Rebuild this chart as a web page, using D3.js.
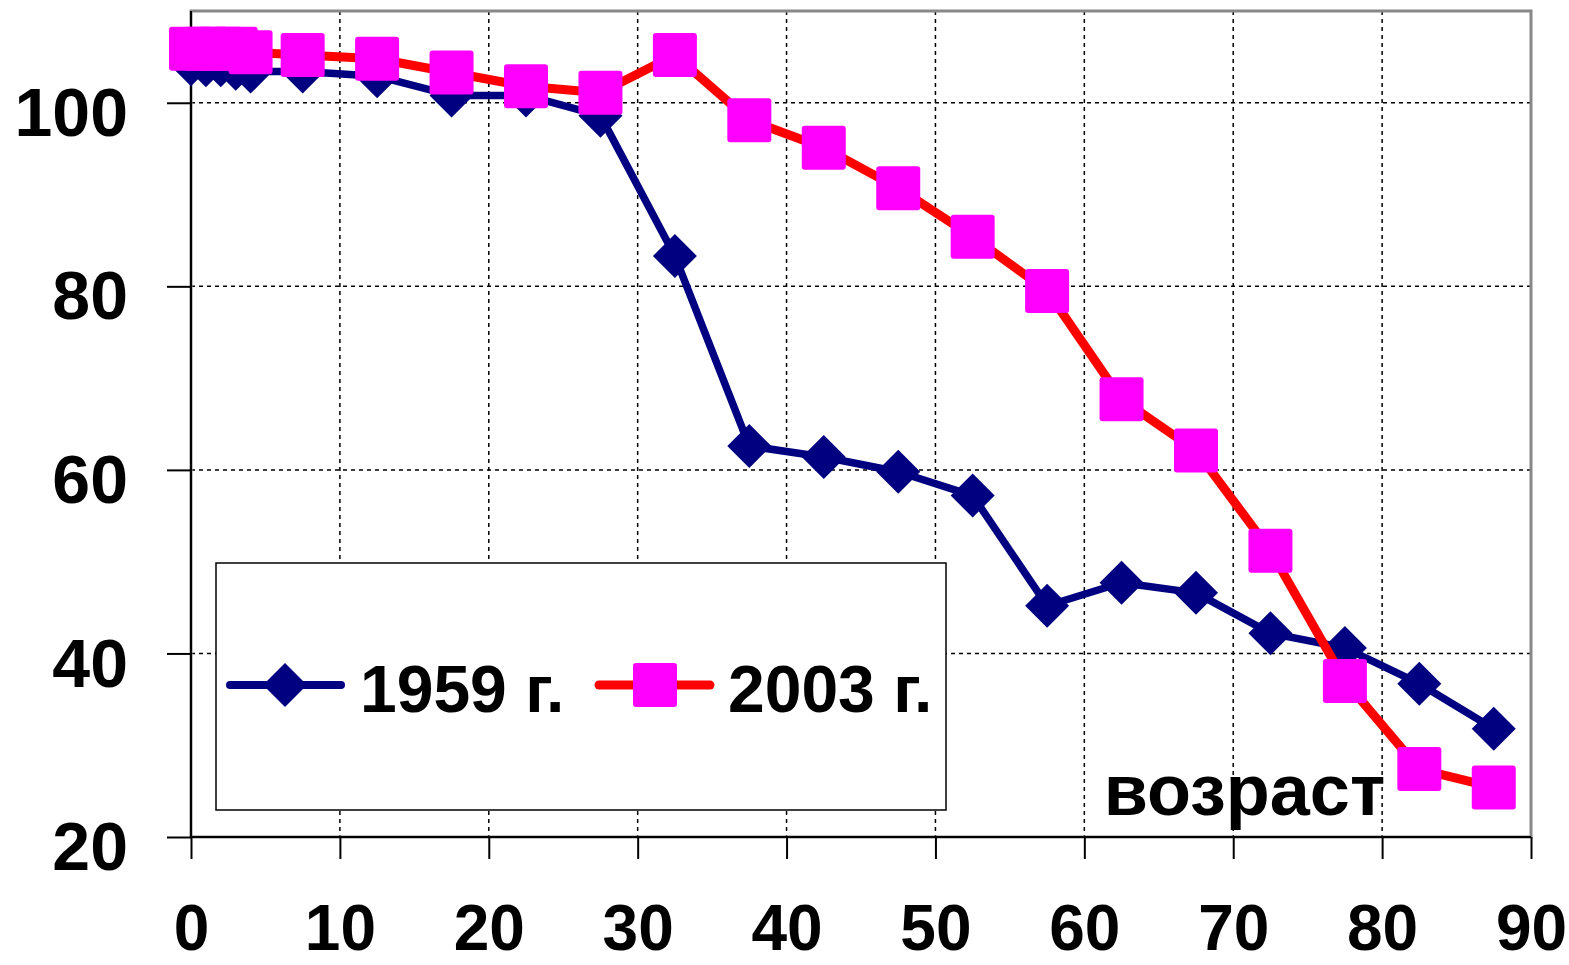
<!DOCTYPE html>
<html lang="ru">
<head>
    <meta charset="UTF-8">
    <title>1959 г. / 2003 г.</title>
    <script src="https://d3js.org/d3.v7.min.js"></script>
    <style>
        body {
            margin: 0;
            background: #fff;
            font-family: "Liberation Sans", Arial, Helvetica, sans-serif;
        }
        .tick text {
            font-weight: bold;
            fill: #000;
        }
    </style>
</head>
<body>
    <div id="chart"></div>

    <script>
        // ages (midpoints of age groups)
        const ages = [0, 1, 2, 3, 4, 7.5, 12.5, 17.5, 22.5, 27.5, 32.5, 37.5, 42.5, 47.5, 52.5, 57.5, 62.5, 67.5, 72.5, 77.5, 82.5, 87.5];
        const values1959 = [104.2, 104.1, 104.1, 103.7, 103.4, 103.4, 102.9, 100.8, 100.8, 98.6, 83.3, 62.6, 61.4, 59.8, 57.2, 45.2, 47.7, 46.6, 42.2, 40.6, 36.7, 31.8];
        const values2003 = [105.9, 105.9, 105.9, 105.9, 105.5, 105.2, 104.8, 103.3, 101.8, 101.1, 105.2, 98.1, 95.1, 90.7, 85.4, 79.5, 67.7, 62.1, 51.2, 37.0, 27.4, 25.4];
        const xTicks = [0, 10, 20, 30, 40, 50, 60, 70, 80, 90];
        const yTicks = [20, 40, 60, 80, 100];
        const seriesNames = ["1959 г.", "2003 г."];
        const axisTitle = "возраст";

        const width = 1569, height = 965;
        const margin = { top: 11, right: 38, bottom: 128, left: 191 };
        const innerW = width - margin.left - margin.right;
        const innerH = height - margin.top - margin.bottom;

        const x = d3.scaleLinear().domain([0, 90]).range([0, innerW]);
        const y = d3.scaleLinear().domain([20, 110]).range([innerH, 0]);

        const svg = d3.select("#chart").append("svg")
            .attr("width", width)
            .attr("height", height)
            .attr("viewBox", [0, 0, width, height]);

        const g = svg.append("g")
            .attr("transform", `translate(${margin.left},${margin.top})`);

        // dotted grid
        g.append("g")
            .selectAll("line")
            .data(xTicks.filter(t => t > 0 && t < 90))
            .join("line")
            .attr("x1", d => x(d)).attr("x2", d => x(d))
            .attr("y1", 0).attr("y2", innerH)
            .attr("stroke", "#000").attr("stroke-width", 1.5)
            .attr("stroke-dasharray", "4,4");

        g.append("g")
            .selectAll("line")
            .data(yTicks.filter(t => t > 20))
            .join("line")
            .attr("x1", 0).attr("x2", innerW)
            .attr("y1", d => y(d)).attr("y2", d => y(d))
            .attr("stroke", "#000").attr("stroke-width", 1.5)
            .attr("stroke-dasharray", "4,4");

        // plot frame (grey) + black axes
        g.append("rect")
            .attr("x", 0).attr("y", 0)
            .attr("width", innerW).attr("height", innerH)
            .attr("fill", "none")
            .attr("stroke", "#888").attr("stroke-width", 3);

        const yAxis = g.append("g")
            .call(d3.axisLeft(y).tickValues(yTicks).tickSize(24).tickPadding(39))
            .call(a => a.select(".domain").remove());
        yAxis.selectAll(".tick line").attr("stroke", "#000").attr("stroke-width", 2);
        yAxis.selectAll(".tick text")
            .style("font-size", "68px")
            .attr("dy", "0.48em");

        const xAxis = g.append("g")
            .attr("transform", `translate(0,${innerH})`)
            .call(d3.axisBottom(x).tickValues(xTicks).tickSize(22).tickPadding(46))
            .call(a => a.select(".domain").remove());
        xAxis.selectAll(".tick line").attr("stroke", "#000").attr("stroke-width", 2);
        xAxis.selectAll(".tick text").style("font-size", "64px");

        g.append("line")
            .attr("x1", 0).attr("x2", 0).attr("y1", 0).attr("y2", innerH)
            .attr("stroke", "#000").attr("stroke-width", 2);
        g.append("line")
            .attr("x1", 0).attr("x2", innerW).attr("y1", innerH).attr("y2", innerH)
            .attr("stroke", "#000").attr("stroke-width", 2);

        // legend box
        const legend = svg.append("g");
        legend.append("rect")
            .attr("x", 216).attr("y", 563)
            .attr("width", 730).attr("height", 247)
            .attr("fill", "#fff")
            .attr("stroke", "#000").attr("stroke-width", 1.5);

        // axis title inside plot
        g.append("text")
            .attr("x", x(61.3))
            .attr("y", 804)
            .style("font-size", "72px")
            .style("font-weight", "bold")
            .attr("fill", "#000")
            .text(axisTitle);

        const diamond = "M0,-22L22,0L0,22L-22,0Z";
        const line = d3.line().x((d, i) => x(ages[i])).y(d => y(d));

        // 1959
        g.append("path")
            .datum(values1959)
            .attr("d", line)
            .attr("fill", "none")
            .attr("stroke", "#000080")
            .attr("stroke-width", 7.5)
            .attr("stroke-linejoin", "round");
        g.append("g")
            .selectAll("path")
            .data(values1959)
            .join("path")
            .attr("d", diamond)
            .attr("transform", (d, i) => `translate(${x(ages[i])},${y(d)})`)
            .attr("fill", "#000080");

        // 2003
        g.append("path")
            .datum(values2003)
            .attr("d", line)
            .attr("fill", "none")
            .attr("stroke", "#ff0000")
            .attr("stroke-width", 9)
            .attr("stroke-linejoin", "round");
        g.append("g")
            .selectAll("rect")
            .data(values2003)
            .join("rect")
            .attr("x", (d, i) => x(ages[i]) - 22)
            .attr("y", d => y(d) - 22)
            .attr("width", 44).attr("height", 44)
            .attr("rx", 3)
            .attr("fill", "#ff00ff");

        // legend entries
        legend.append("line")
            .attr("x1", 230).attr("x2", 341).attr("y1", 685).attr("y2", 685)
            .attr("stroke", "#000080").attr("stroke-width", 8).attr("stroke-linecap", "round");
        legend.append("path")
            .attr("d", diamond)
            .attr("transform", "translate(285,685)")
            .attr("fill", "#000080");
        legend.append("text")
            .attr("x", 360).attr("y", 712)
            .style("font-size", "66px").style("font-weight", "bold")
            .text(seriesNames[0]);

        legend.append("line")
            .attr("x1", 599).attr("x2", 710).attr("y1", 685).attr("y2", 685)
            .attr("stroke", "#ff0000").attr("stroke-width", 9).attr("stroke-linecap", "round");
        legend.append("rect")
            .attr("x", 633).attr("y", 663)
            .attr("width", 44).attr("height", 44).attr("rx", 3)
            .attr("fill", "#ff00ff");
        legend.append("text")
            .attr("x", 728).attr("y", 712)
            .style("font-size", "66px").style("font-weight", "bold")
            .text(seriesNames[1]);
    </script>
</body>
</html>
